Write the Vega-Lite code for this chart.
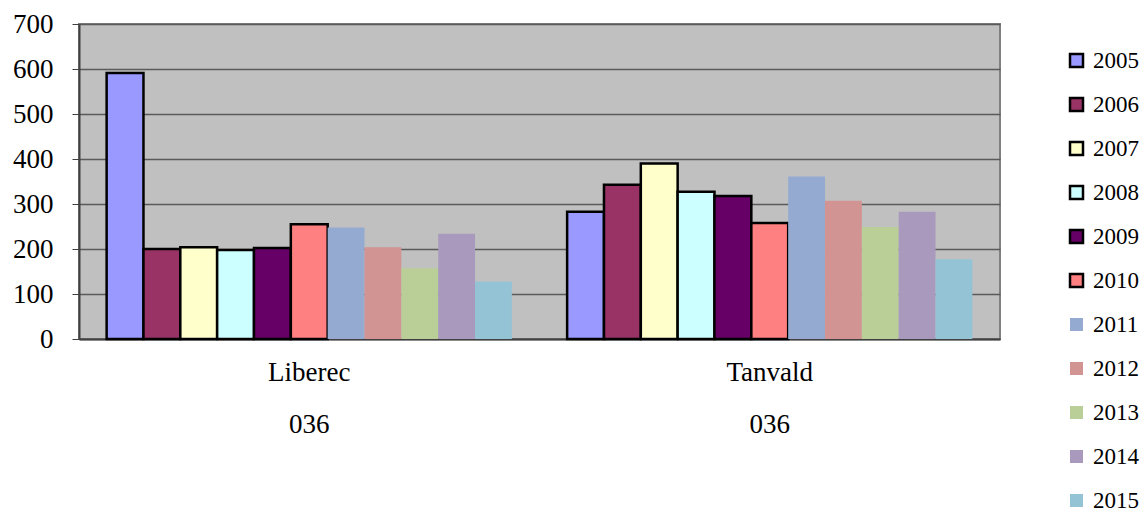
{
  "$schema": "https://vega.github.io/schema/vega-lite/v6.json",
  "width": 921,
  "height": 315,
  "autosize": "none",
  "padding": {"left": 79, "top": 24, "right": 144, "bottom": 173},
  "background": "white",
  "config": {
    "font": "'Liberation Serif', 'DejaVu Serif', serif",
    "view": {"fill": "#C0C0C0", "stroke": "#808080", "strokeWidth": 2}
  },
  "data": {
    "values": [
      {"place": "Liberec|036", "year": 2005, "value": 591},
      {"place": "Liberec|036", "year": 2006, "value": 200},
      {"place": "Liberec|036", "year": 2007, "value": 204},
      {"place": "Liberec|036", "year": 2008, "value": 198},
      {"place": "Liberec|036", "year": 2009, "value": 202},
      {"place": "Liberec|036", "year": 2010, "value": 255},
      {"place": "Liberec|036", "year": 2011, "value": 248},
      {"place": "Liberec|036", "year": 2012, "value": 204},
      {"place": "Liberec|036", "year": 2013, "value": 157},
      {"place": "Liberec|036", "year": 2014, "value": 234},
      {"place": "Liberec|036", "year": 2015, "value": 128},
      {"place": "Tanvald|036", "year": 2005, "value": 283},
      {"place": "Tanvald|036", "year": 2006, "value": 343},
      {"place": "Tanvald|036", "year": 2007, "value": 390},
      {"place": "Tanvald|036", "year": 2008, "value": 327},
      {"place": "Tanvald|036", "year": 2009, "value": 318},
      {"place": "Tanvald|036", "year": 2010, "value": 258},
      {"place": "Tanvald|036", "year": 2011, "value": 361},
      {"place": "Tanvald|036", "year": 2012, "value": 307},
      {"place": "Tanvald|036", "year": 2013, "value": 249},
      {"place": "Tanvald|036", "year": 2014, "value": 283},
      {"place": "Tanvald|036", "year": 2015, "value": 177}
    ]
  },
  "mark": {"type": "bar", "stroke": "black"},
  "encoding": {
    "x": {
      "field": "place",
      "type": "nominal",
      "sort": null,
      "scale": {"paddingInner": 0.12, "paddingOuter": 0.06},
      "axis": {
        "title": null,
        "labelAngle": 0,
        "labelExpr": "split(datum.label, '|')",
        "labelFont": "'Liberation Serif', 'DejaVu Serif', serif",
        "labelFontSize": 27,
        "labelColor": "black",
        "labelLineHeight": 52,
        "labelPadding": 20,
        "ticks": false,
        "domainColor": "#404040",
        "domainWidth": 2
      }
    },
    "xOffset": {
      "field": "year",
      "type": "nominal",
      "scale": {"paddingInner": 0, "paddingOuter": 0}
    },
    "y": {
      "field": "value",
      "type": "quantitative",
      "scale": {"domain": [0, 700], "nice": false},
      "axis": {
        "title": null,
        "values": [0, 100, 200, 300, 400, 500, 600, 700],
        "labelFont": "'Liberation Serif', 'DejaVu Serif', serif",
        "labelFontSize": 27,
        "labelColor": "black",
        "labelPadding": 19,
        "tickSize": 7,
        "tickColor": "#404040",
        "domainColor": "#404040",
        "domainWidth": 2,
        "gridColor": "#5A5A5A",
        "gridWidth": 1.5
      }
    },
    "color": {
      "field": "year",
      "type": "nominal",
      "scale": {
        "domain": [2005, 2006, 2007, 2008, 2009, 2010, 2011, 2012, 2013, 2014, 2015],
        "range": ["#9999FF", "#993366", "#FFFFCC", "#CCFFFF", "#660066", "#FF8080", "#95AAD1", "#D29393", "#BACE98", "#A99ABD", "#93C3D5"]
      },
      "legend": {
        "title": null,
        "orient": "none",
        "legendX": 986,
        "legendY": 25,
        "padding": 0,
        "symbolType": "square",
        "symbolSize": 169,
        "symbolOpacity": 1,
        "symbolStrokeColor": "black",
        "labelFont": "'Liberation Serif', 'DejaVu Serif', serif",
        "labelFontSize": 23,
        "labelColor": "black",
        "labelOffset": 5,
        "rowPadding": 20,
        "encode": {
          "symbols": {
            "update": {
              "stroke": {"value": "black"},
              "strokeWidth": {"signal": "datum.value <= 2010 ? 2.5 : 0"}
            }
          }
        }
      }
    },
    "strokeWidth": {
      "condition": {"test": "datum.year <= 2010", "value": 2.5},
      "value": 0
    }
  }
}
